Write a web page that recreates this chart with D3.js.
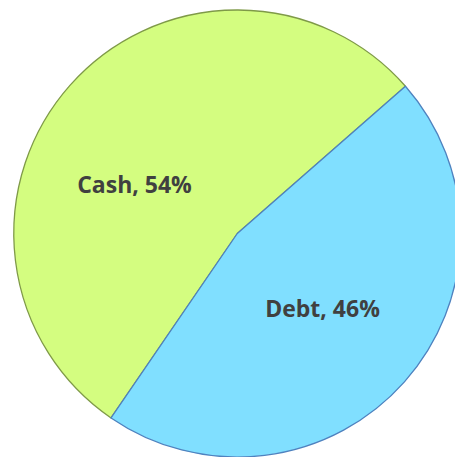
<!DOCTYPE html>
<html>
<head>
<meta charset="utf-8">
<script src="https://cdn.jsdelivr.net/npm/d3@7"></script>
<style>
  html, body { margin: 0; padding: 0; background: #ffffff; }
  svg { display: block; }
</style>
</head>
<body>
<svg id="chart" width="455" height="457"></svg>
<script>
// Funding mix
const categories = ["Cash", "Debt"];
const shares = [54, 46];
const fills = ["#d4fd80", "#80dfff"];
const strokes = ["#7f9a48", "#4f82bf"];

const svg = d3.select("#chart");
const cx = 237.3, cy = 233.5, r = 223.5;
const deg = Math.PI / 180;

const pie = d3.pie().sort(null).value(d => d.value)
  .startAngle(214.4 * deg).endAngle(214.4 * deg + 2 * Math.PI);
const data = categories.map((c, i) => ({ name: c, value: shares[i], i }));
const arcs = pie(data);

const arc = d3.arc().innerRadius(0).outerRadius(r);
const g = svg.append("g").attr("transform", `translate(${cx},${cy})`);

g.selectAll("path.slice").data(arcs).enter().append("path")
  .attr("class", "slice")
  .attr("d", arc)
  .attr("fill", d => fills[d.data.i])
  .attr("stroke", d => strokes[d.data.i])
  .attr("stroke-width", 1.3)
  .attr("stroke-linejoin", "round");

// label placement: slice centroid at about half the radius, the larger
// slice's label rotated a little toward the top-left as the layout does
const labelRadius = r * 0.51;
const labelShift = [-16 * deg, 0];
g.selectAll("text.lbl").data(arcs).enter().append("text")
  .attr("class", "lbl")
  .attr("transform", d => {
    const a = (d.startAngle + d.endAngle) / 2 + labelShift[d.data.i];
    const x = Math.sin(a) * labelRadius;
    const y = -Math.cos(a) * labelRadius;
    return `translate(${x},${y})`;
  })
  .attr("text-anchor", "middle")
  .attr("dy", "0.36em")
  .attr("font-family", "'Open Sans', 'Noto Sans', sans-serif")
  .attr("font-weight", "bold")
  .attr("font-size", 23)
  .attr("fill", "#404040")
  .text(d => `${d.data.name}, ${d.data.value}%`);
</script>
</body>
</html>
